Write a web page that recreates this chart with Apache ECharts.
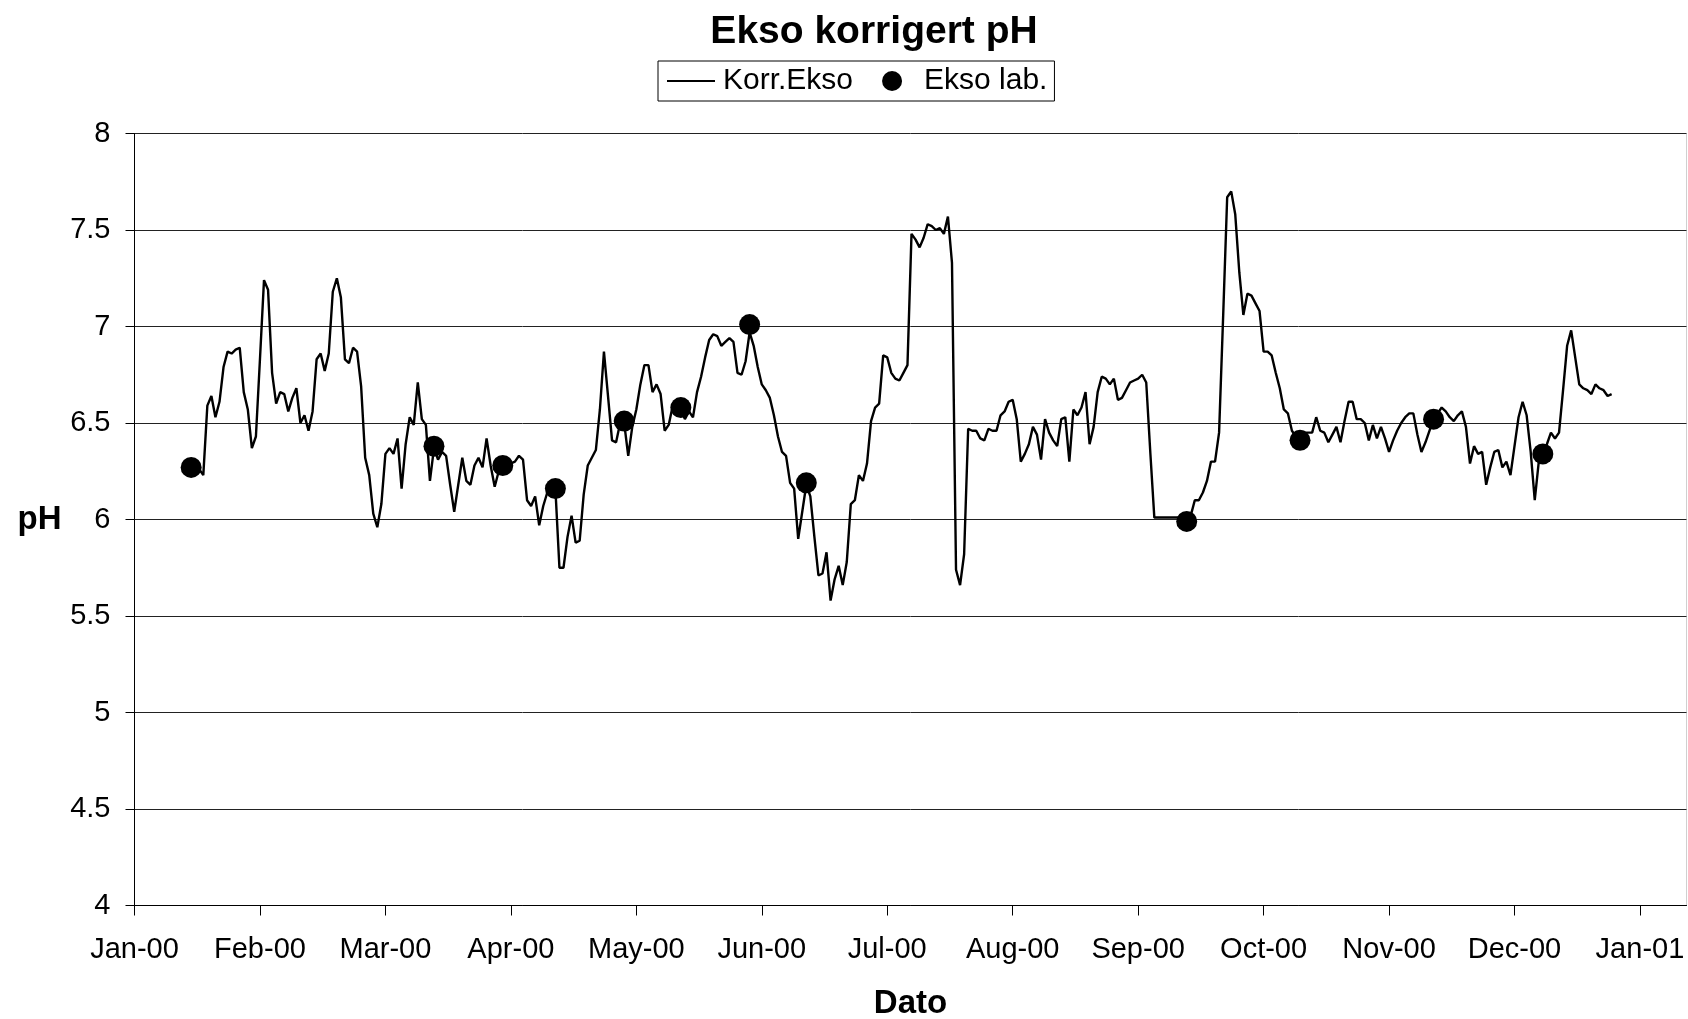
<!DOCTYPE html>
<html>
<head>
    <meta charset="utf-8">
    <title>Ekso korrigert pH</title>
    <script src="https://cdn.jsdelivr.net/npm/echarts@6/dist/echarts.min.js"></script>
    <style>
        html, body { margin: 0; padding: 0; background: #fff; }
        #chart { width: 1688px; height: 1019px; }
    </style>
</head>
<body>
<div id="chart"></div>
<script type="text/javascript">
    // Korr.Ekso: daglige verdier fra 17.01.2000
    var korrStart = '2000-01-17';
    var korrPH = [
        6.26, 6.23, 6.59, 6.64, 6.53, 6.61, 6.79, 6.87, 6.86, 6.88, 6.89, 6.66, 6.57, 6.37, 6.43, 6.83,
        7.24, 7.19, 6.76, 6.60, 6.66, 6.65, 6.56, 6.63, 6.68, 6.50, 6.54, 6.46, 6.56, 6.83, 6.86, 6.77,
        6.86, 7.18, 7.25, 7.15, 6.83, 6.81, 6.89, 6.87, 6.69, 6.32, 6.23, 6.03, 5.96, 6.08, 6.34, 6.37,
        6.34, 6.42, 6.16, 6.39, 6.53, 6.49, 6.71, 6.52, 6.49, 6.20, 6.37, 6.31, 6.35, 6.33, 6.18, 6.04,
        6.18, 6.32, 6.20, 6.18, 6.28, 6.32, 6.27, 6.42, 6.28, 6.17, 6.25, 6.27, 6.27, 6.29, 6.30, 6.33,
        6.31, 6.10, 6.07, 6.12, 5.97, 6.07, 6.14, 6.16, 6.16, 5.75, 5.75, 5.91, 6.02, 5.88, 5.89, 6.13,
        6.28, 6.32, 6.36, 6.57, 6.87, 6.64, 6.41, 6.40, 6.50, 6.50, 6.33, 6.48, 6.57, 6.70, 6.80, 6.80,
        6.66, 6.70, 6.65, 6.46, 6.49, 6.59, 6.60, 6.57, 6.52, 6.56, 6.53, 6.66, 6.74, 6.84, 6.93, 6.96,
        6.95, 6.90, 6.92, 6.94, 6.92, 6.76, 6.75, 6.82, 6.97, 6.90, 6.79, 6.70, 6.67, 6.63, 6.54, 6.43,
        6.35, 6.33, 6.19, 6.16, 5.90, 6.04, 6.18, 6.12, 5.91, 5.71, 5.72, 5.83, 5.58, 5.69, 5.76, 5.66,
        5.78, 6.08, 6.10, 6.23, 6.20, 6.29, 6.51, 6.58, 6.60, 6.85, 6.84, 6.76, 6.73, 6.72, 6.76, 6.80,
        7.48, 7.45, 7.41, 7.46, 7.53, 7.52, 7.50, 7.51, 7.48, 7.57, 7.33, 5.74, 5.66, 5.82, 6.47, 6.46,
        6.46, 6.42, 6.41, 6.47, 6.46, 6.46, 6.54, 6.56, 6.61, 6.62, 6.52, 6.30, 6.34, 6.39, 6.48, 6.44,
        6.31, 6.52, 6.45, 6.41, 6.38, 6.52, 6.53, 6.30, 6.57, 6.54, 6.58, 6.66, 6.39, 6.48, 6.66, 6.74,
        6.73, 6.70, 6.73, 6.62, 6.63, 6.67, 6.71, 6.72, 6.73, 6.75, 6.71, 6.35, 6.01, 6.01, 6.01, 6.01,
        6.01, 6.01, 6.01, 6.01, 6.01, 6.02, 6.10, 6.10, 6.14, 6.20, 6.30, 6.30, 6.45, 7.05, 7.67, 7.70,
        7.58, 7.28, 7.06, 7.17, 7.16, 7.12, 7.08, 6.87, 6.87, 6.85, 6.76, 6.68, 6.57, 6.55, 6.46, 6.43,
        6.44, 6.45, 6.45, 6.45, 6.53, 6.46, 6.45, 6.40, 6.44, 6.48, 6.40, 6.51, 6.61, 6.61, 6.52, 6.52,
        6.50, 6.41, 6.49, 6.42, 6.48, 6.42, 6.35, 6.41, 6.46, 6.50, 6.53, 6.55, 6.55, 6.44, 6.35, 6.40,
        6.46, 6.52, 6.55, 6.58, 6.56, 6.53, 6.51, 6.54, 6.56, 6.48, 6.29, 6.38, 6.34, 6.35, 6.18, 6.27,
        6.35, 6.36, 6.27, 6.30, 6.23, 6.38, 6.53, 6.61, 6.54, 6.35, 6.10, 6.30, 6.35, 6.39, 6.45, 6.42,
        6.45, 6.67, 6.90, 6.98, 6.84, 6.70, 6.68, 6.67, 6.65, 6.70, 6.68, 6.67, 6.64, 6.65
    ];

    // Ekso lab.
    var labDates = ['2000-01-15', '2000-03-15', '2000-04-01', '2000-04-14', '2000-05-01', '2000-05-15',
        '2000-06-01', '2000-06-15', '2000-09-17', '2000-10-15', '2000-11-17', '2000-12-14'];
    var labPH = [6.27, 6.38, 6.28, 6.16, 6.51, 6.58, 7.01, 6.19, 5.99, 6.41, 6.52, 6.34];

    var monthNames = ['Jan', 'Feb', 'Mar', 'Apr', 'May', 'Jun', 'Jul', 'Aug', 'Sep', 'Oct', 'Nov', 'Dec'];
    var DAY = 86400000;
    var origin = Date.UTC(2000, 0, 1);

    function dayNo(s) {
        var p = s.split('-');
        return Math.round((Date.UTC(+p[0], +p[1] - 1, +p[2]) - origin) / DAY);
    }

    var korrData = [];
    var start = dayNo(korrStart);
    for (var i = 0; i < korrPH.length; i++) {
        korrData.push([start + i, korrPH[i]]);
    }
    var labData = labDates.map(function (d, i) { return [dayNo(d), labPH[i]]; });

    var font = "'Liberation Sans', Arial, sans-serif";
    var myChart = echarts.init(document.getElementById('chart'));

    myChart.setOption({
        animation: false,
        backgroundColor: '#fff',
        title: {
            text: 'Ekso korrigert pH',
            left: 874,
            textAlign: 'center',
            top: 13,
            padding: 0,
            textStyle: { fontFamily: font, fontSize: 39, fontWeight: 'bold', color: '#000' }
        },
        legend: {
            data: [
                { name: 'Korr.Ekso', icon: 'path://M0,0h48v2h-48z' },
                { name: 'Ekso lab.', icon: 'circle' }
            ],
            left: 658,
            top: 61,
            padding: [5, 7, 5, 9],
            itemWidth: 48,
            itemHeight: 20,
            itemGap: 29,
            borderColor: '#000',
            borderWidth: 1,
            borderRadius: 0,
            textStyle: { fontFamily: font, fontSize: 30, color: '#000', padding: [0, 0, 0, 3] }
        },
        grid: {
            left: 134.5,
            right: 1.5,
            top: 133.5,
            bottom: 113.5,
            outerBoundsMode: 'none',
            show: true,
            borderColor: '#d0d0d0',
            borderWidth: 1
        },
        xAxis: {
            type: 'value',
            min: 0,
            max: 383.5,
            interval: 31,
            name: 'Dato',
            nameLocation: 'middle',
            nameGap: 82,
            nameTextStyle: { fontFamily: font, fontSize: 33, fontWeight: 'bold', color: '#000' },
            axisLine: { lineStyle: { color: '#000', width: 1 } },
            axisTick: { length: 10, lineStyle: { color: '#000' } },
            splitLine: { show: false },
            axisLabel: {
                margin: 30,
                fontFamily: font,
                fontSize: 29,
                color: '#000',
                showMaxLabel: false,
                formatter: function (v) {
                    if (v % 31 !== 0) return '';
                    var d = new Date(origin + v * DAY);
                    return monthNames[d.getUTCMonth()] + '-' + String(d.getUTCFullYear()).slice(2);
                }
            }
        },
        yAxis: {
            type: 'value',
            min: 4,
            max: 8,
            interval: 0.5,
            name: 'pH',
            nameLocation: 'middle',
            nameRotate: 0,
            nameGap: 73,
            nameTextStyle: { fontFamily: font, fontSize: 33, fontWeight: 'bold', color: '#000' },
            axisLine: { show: true, lineStyle: { color: '#000', width: 1 } },
            axisTick: { show: true, length: 9, lineStyle: { color: '#000' } },
            splitLine: { lineStyle: { color: '#222', width: 1 } },
            axisLabel: { margin: 24, fontFamily: font, fontSize: 29, color: '#000' }
        },
        series: [
            {
                name: 'Korr.Ekso',
                type: 'line',
                data: korrData,
                symbol: 'none',
                lineStyle: { color: '#000', width: 2.4 },
                itemStyle: { color: '#000' },
                z: 2
            },
            {
                name: 'Ekso lab.',
                type: 'scatter',
                data: labData,
                symbol: 'circle',
                symbolSize: 21,
                itemStyle: { color: '#000', opacity: 1 },
                z: 3
            }
        ]
    });
</script>
</body>
</html>
